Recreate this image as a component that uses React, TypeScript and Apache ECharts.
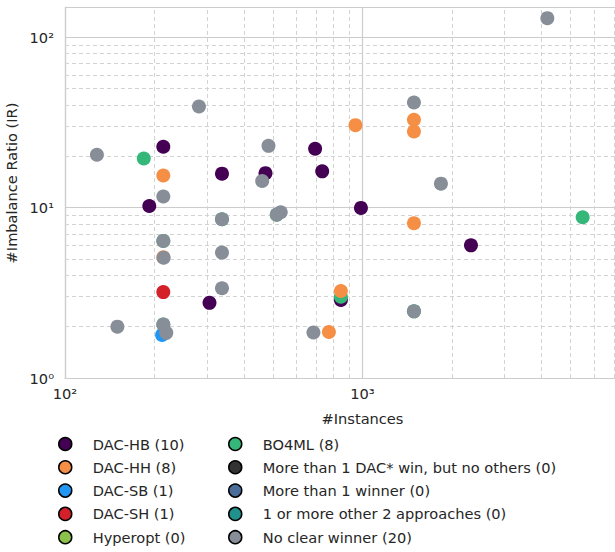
import React, { useEffect, useRef } from "react";
import * as echarts from "echarts";

// ---- Data ----
// [#Instances, #Imbalance Ratio]
const dacHB: number[][] = [
  [214, 22.7], [192, 10.2], [337, 15.8], [472, 15.9], [693, 22.1],
  [732, 16.3], [306, 2.76], [988, 9.95], [2315, 6.0], [846, 2.87],
];
const dacHH: number[][] = [
  [214, 15.4], [947, 30.4], [1489, 32.7], [1489, 27.9], [1489, 8.09],
  [846, 3.24], [771, 1.86], [214, 5.11],
];
const dacSB: number[][] = [[212, 1.79]];
const dacSH: number[][] = [[214, 3.19]];
const hyperopt: number[][] = [];
const bo4ml: number[][] = [
  [184, 19.4], [5496, 8.77], [846, 3.0],
  [214, 2.06], [337, 8.54], [1489, 2.46], [515, 9.08], [214, 6.37],
];
const moreDac: number[][] = [];
const moreWinner: number[][] = [];
const otherTwo: number[][] = [];
const noClear: number[][] = [
  [128, 20.4], [282, 39.1], [460, 14.3], [483, 23.0], [4181, 129],
  [1489, 41.3], [1835, 13.8], [214, 11.6], [337, 8.54], [515, 9.08],
  [531, 9.38], [214, 6.37], [337, 5.44], [214.5, 5.08], [337, 3.36],
  [150, 2.0], [214, 2.06], [219, 1.84], [684, 1.85], [1489, 2.46],
];

const categoryNames = [
  "DAC-HB", "DAC-HH", "DAC-SB", "DAC-SH", "Hyperopt",
  "BO4ML", "More than 1 DAC* win, but no others", "More than 1 winner",
  "1 or more other 2 approaches", "No clear winner",
];
const categoryData = [
  dacHB, dacHH, dacSB, dacSH, hyperopt,
  bo4ml, moreDac, moreWinner, otherTwo, noClear,
];
const categoryColors = [
  "#440154", "#f68f46", "#2196f3", "#d32029", "#8bc34a",
  "#35b779", "#333333", "#4a6d99", "#21918c", "#878e97",
];
// drawing order (later = on top)
const drawOrder = [0, 5, 1, 2, 3, 4, 6, 7, 8, 9];

// axis ranges and minor grid ticks
const xMin = 100;
const xMax = 10000;
const yMin = 1;
const yMax = 150;
const xMinorTicks = [200, 300, 400, 500, 600, 700, 800, 900, 2000, 3000, 4000, 5000, 6000, 7000, 8000, 9000];
const yMinorTicks = [2, 3, 4, 5, 6, 7, 8, 9, 20, 30, 40, 50, 60, 70, 80, 90];

const SUP: Record<string, string> = { "0": "⁰", "1": "¹", "2": "²", "3": "³", "4": "⁴", "5": "⁵" };
function powLabel(v: number): string {
  const e = Math.log10(v);
  if (Math.abs(e - Math.round(e)) > 1e-6) return "";
  return "10" + String(Math.round(e)).split("").map((c) => SUP[c] || c).join("");
}

const FONT = "DejaVu Sans";
const TEXT = "#262626";
const FS = 14.6;

// the drawing surface is larger than the visible window; the reference crops the plot at the right
const CANVAS_W = 662;
const CANVAS_H = 620;

export default function App() {
  const ref = useRef<HTMLDivElement>(null);
  useEffect(() => {
    if (!ref.current) return;
    const chart = echarts.init(ref.current, undefined, { renderer: "svg" });
    const labels = categoryNames.map((n, i) => `${n} (${categoryData[i].length})`);

    const series: any[] = [
      {
        type: "scatter",
        name: "minor-grid",
        data: [],
        silent: true,
        z: 1,
        markLine: {
          silent: true,
          z: 1,
          symbol: ["none", "none"],
          animation: false,
          label: { show: false },
          emphasis: { disabled: true },
          lineStyle: { color: "#d3d3d3", width: 1, type: [4, 3] },
          data: [
            ...xMinorTicks.map((v) => ({ xAxis: v })),
            ...yMinorTicks.map((v) => ({ yAxis: v })),
          ],
        },
      },
    ];
    drawOrder.forEach((i) => {
      series.push({
        type: "scatter",
        name: labels[i],
        data: categoryData[i],
        symbol: "circle",
        symbolSize: 14,
        z: 3,
        itemStyle: { color: categoryColors[i], opacity: 1 },
        emphasis: { disabled: true },
      });
    });

    const legendCommon = {
      orient: "vertical",
      top: 431,
      height: 160,
      icon: "circle",
      itemWidth: 13,
      itemHeight: 13,
      itemGap: 7.3,
      selectedMode: false,
      itemStyle: { borderColor: "#000", borderWidth: 1.5 },
      textStyle: {
        fontFamily: FONT,
        fontSize: FS,
        color: TEXT,
        lineHeight: 16,
        padding: [0, 0, 0, 16],
      },
    };

    chart.setOption({
      animation: false,
      backgroundColor: "#ffffff",
      textStyle: { fontFamily: FONT },
      grid: {
        left: 65,
        top: 7,
        height: 371,
        width: 595,
        containLabel: false,
        outerBoundsMode: "none",
      },
      legend: [
        { ...legendCommon, left: 53, data: labels.slice(0, 5) },
        { ...legendCommon, left: 223, data: labels.slice(5) },
      ],
      xAxis: {
        type: "log",
        logBase: 10,
        min: xMin,
        max: xMax,
        name: "#Instances",
        nameLocation: "middle",
        nameGap: 33,
        nameTextStyle: { fontFamily: FONT, fontSize: FS, color: TEXT },
        axisLine: { show: true, lineStyle: { color: "#cccccc", width: 1.2 } },
        axisTick: { show: false },
        axisLabel: {
          fontFamily: FONT,
          fontSize: FS,
          color: TEXT,
          margin: 8,
          showMaxLabel: false,
          formatter: (v: number) => (v >= xMax ? "" : powLabel(v)),
        },
        splitLine: { show: true, lineStyle: { color: "#cccccc", width: 1.2 } },
      },
      yAxis: {
        type: "log",
        logBase: 10,
        min: yMin,
        max: yMax,
        name: "#Imbalance Ratio (IR)",
        nameLocation: "middle",
        nameGap: 40,
        nameTextStyle: { fontFamily: FONT, fontSize: FS, color: TEXT, padding: [0, 0, 0, 19] },
        axisLine: { show: true, lineStyle: { color: "#cccccc", width: 1.2 } },
        axisTick: { show: false },
        axisLabel: {
          fontFamily: FONT,
          fontSize: FS,
          color: TEXT,
          margin: 11,
          formatter: (v: number) => powLabel(v),
        },
        splitLine: { show: true, lineStyle: { color: "#cccccc", width: 1.2 } },
      },
      series,
    });
    return () => chart.dispose();
  }, []);
  return (
    <div
      style={{ position: "absolute", left: 0, top: 0, width: 615, height: 552, overflow: "hidden", background: "#fff" }}
    >
      <div ref={ref} style={{ position: "absolute", left: 0, top: 0, width: CANVAS_W, height: CANVAS_H }} />
    </div>
  );
}
